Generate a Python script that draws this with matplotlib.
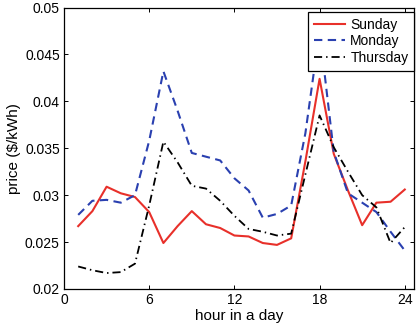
import matplotlib
matplotlib.use("Agg")
import matplotlib.pyplot as plt
from matplotlib.ticker import FuncFormatter

plt.rcParams['font.family'] = ['Liberation Sans', 'DejaVu Sans']

hours = list(range(1, 25))
sunday = [0.0267, 0.0283, 0.0309, 0.0302, 0.0298, 0.0282, 0.0249, 0.0267,
          0.0283, 0.0269, 0.0265, 0.0257, 0.0256, 0.0249, 0.0247, 0.0254,
          0.0336, 0.0424, 0.0344, 0.0305, 0.0268, 0.0292, 0.0293, 0.0306]
monday = [0.0279, 0.0294, 0.0295, 0.0292, 0.0300, 0.0358, 0.0432, 0.0390,
          0.0345, 0.0341, 0.0337, 0.0318, 0.0305, 0.0276, 0.0280, 0.0289,
          0.0366, 0.0475, 0.0346, 0.0302, 0.0292, 0.0282, 0.0261, 0.0241]
thursday = [0.0224, 0.0220, 0.0217, 0.0218, 0.0227, 0.0289, 0.0357, 0.0335,
            0.0310, 0.0307, 0.0294, 0.0278, 0.0264, 0.0261, 0.0257, 0.0259,
            0.0322, 0.0385, 0.0351, 0.0325, 0.0300, 0.0287, 0.0249, 0.0266]
series_names = ['Sunday', 'Monday', 'Thursday']
xticks = [0, 6, 12, 18, 24]
yticks = [0.02, 0.025, 0.03, 0.035, 0.04, 0.045, 0.05]

fig = plt.figure(figsize=(4.17, 3.31), dpi=100)
ax = fig.add_axes([64/417, 1-289/331, 350/417, 281.5/331])

ax.plot(hours, sunday, color='#e8302a', lw=1.5, ls='-', label=series_names[0])
ax.plot(hours, monday, color='#2a40b0', lw=1.5, ls=(0, (4, 2.6)), label=series_names[1])
ax.plot(hours, thursday, color='black', lw=1.3, ls=(0, (4.5, 2.2, 0.8, 2.2)), label=series_names[2])

ax.set_xlim(0, 24.65)
ax.set_ylim(0.02, 0.05)
ax.set_xticks(xticks)
ax.set_yticks(yticks)
ax.yaxis.set_major_formatter(FuncFormatter(lambda v, p: '%g' % round(v, 4)))
ax.tick_params(direction='in', length=3, width=0.7, top=True, right=True,
               labelsize=10, pad=3, colors='black')
for s in ax.spines.values():
    s.set_linewidth(0.9)
ax.set_xlabel('hour in a day', fontsize=11, labelpad=1)
ax.set_ylabel('price ($/kWh)', fontsize=11, labelpad=3)

leg = ax.legend(loc='upper right', bbox_to_anchor=(1.0, 1 - 4.5/281.5),
                fontsize=10, handlelength=2.25, handletextpad=0.38,
                borderpad=0.4, labelspacing=0.2, borderaxespad=0.0,
                fancybox=False, framealpha=1, edgecolor='black')
leg.get_frame().set_linewidth(0.9)

fig.savefig('out.png', dpi=100)
